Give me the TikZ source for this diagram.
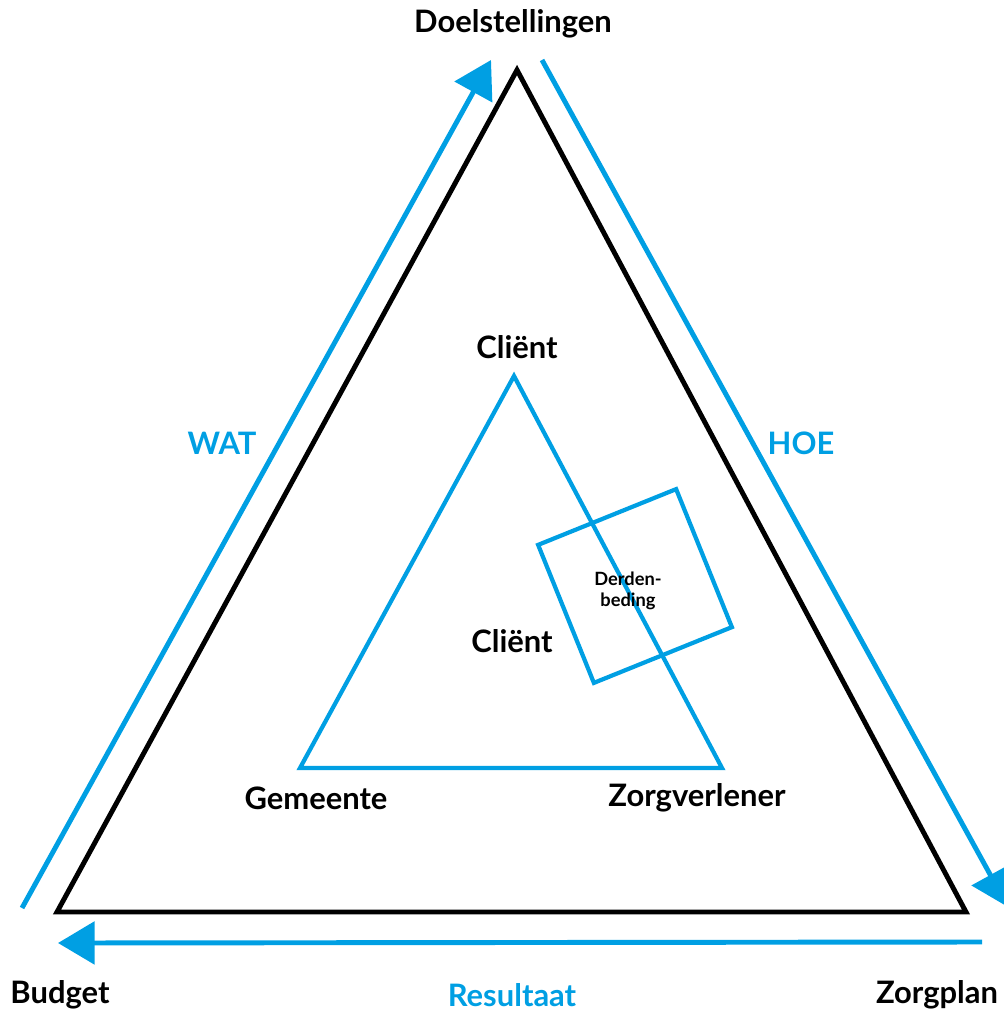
\documentclass[tikz,border=0pt]{standalone}
\usepackage{fontspec}
\setmainfont{Lato}
\usetikzlibrary{arrows.meta}
\definecolor{zorgblauw}{RGB}{0,159,227}

\begin{document}
\begin{tikzpicture}[x=0.025cm, y=-0.025cm,
    label/.style={font=\bfseries\fontsize{22}{26}\selectfont, inner sep=0pt},
    blauwlabel/.style={label, text=zorgblauw},
    pijl/.style={zorgblauw, line width=3.5pt, -{Triangle[length=26pt, width=30pt]}},
    lijn/.style={zorgblauw, line width=3pt, line join=miter}]
  \useasboundingbox (0,0) rectangle (1004,1012);

  % Hoekpunten
  \coordinate (doel) at (517,70);
  \coordinate (budget) at (57,912);
  \coordinate (plan) at (966,912);
  \coordinate (client) at (514,376);
  \coordinate (gem) at (300,768);
  \coordinate (zorg) at (722,768);

  % Buitenste driehoek
  \draw[line width=3.5pt, line join=miter] (doel) -- (plan) -- (budget) -- cycle;

  % Binnenste driehoek
  \draw[lijn] (client) -- (zorg) -- (gem) -- cycle;

  % Derdenbeding
  \node[draw=zorgblauw, line width=3pt, rotate=22, minimum size=3.72cm, inner sep=0pt] (vak) at (635,586) {};
  \node[font=\bfseries\fontsize{13}{15}\selectfont, align=center, inner sep=0pt] (derden) at (628,591) {Derden-\\beding};

  % Pijlen
  \coordinate (watbegin) at (22,908);
  \coordinate (watkop) at (491,60);
  \coordinate (hoebegin) at (542,60);
  \coordinate (hoekop) at (1008,907);
  \coordinate (resbegin) at (982,942);
  \coordinate (reskop) at (58,943);
  \draw[pijl] (watbegin) -- (watkop);
  \draw[pijl] (hoebegin) -- (hoekop);
  \draw[pijl] (resbegin) -- (reskop);

  % Teksten
  \node[label] (tdoel) at (513,24) {Doelstellingen};
  \node[label] (tbudget) at (60,995) {Budget};
  \node[label] (tplan) at (937,995) {Zorgplan};
  \node[label] (tclient) at (517,347) {Cliënt};
  \node[label] (tmidden) at (512,641) {Cliënt};
  \node[label] (tgem) at (316,798) {Gemeente};
  \node[label] (tzorg) at (697,798) {Zorgverlener};
  \node[blauwlabel] (twat) at (222,443) {WAT};
  \node[blauwlabel] (thoe) at (801,443) {HOE};
  \node[blauwlabel] (tres) at (512,995) {Resultaat};
\end{tikzpicture}
\end{document}
